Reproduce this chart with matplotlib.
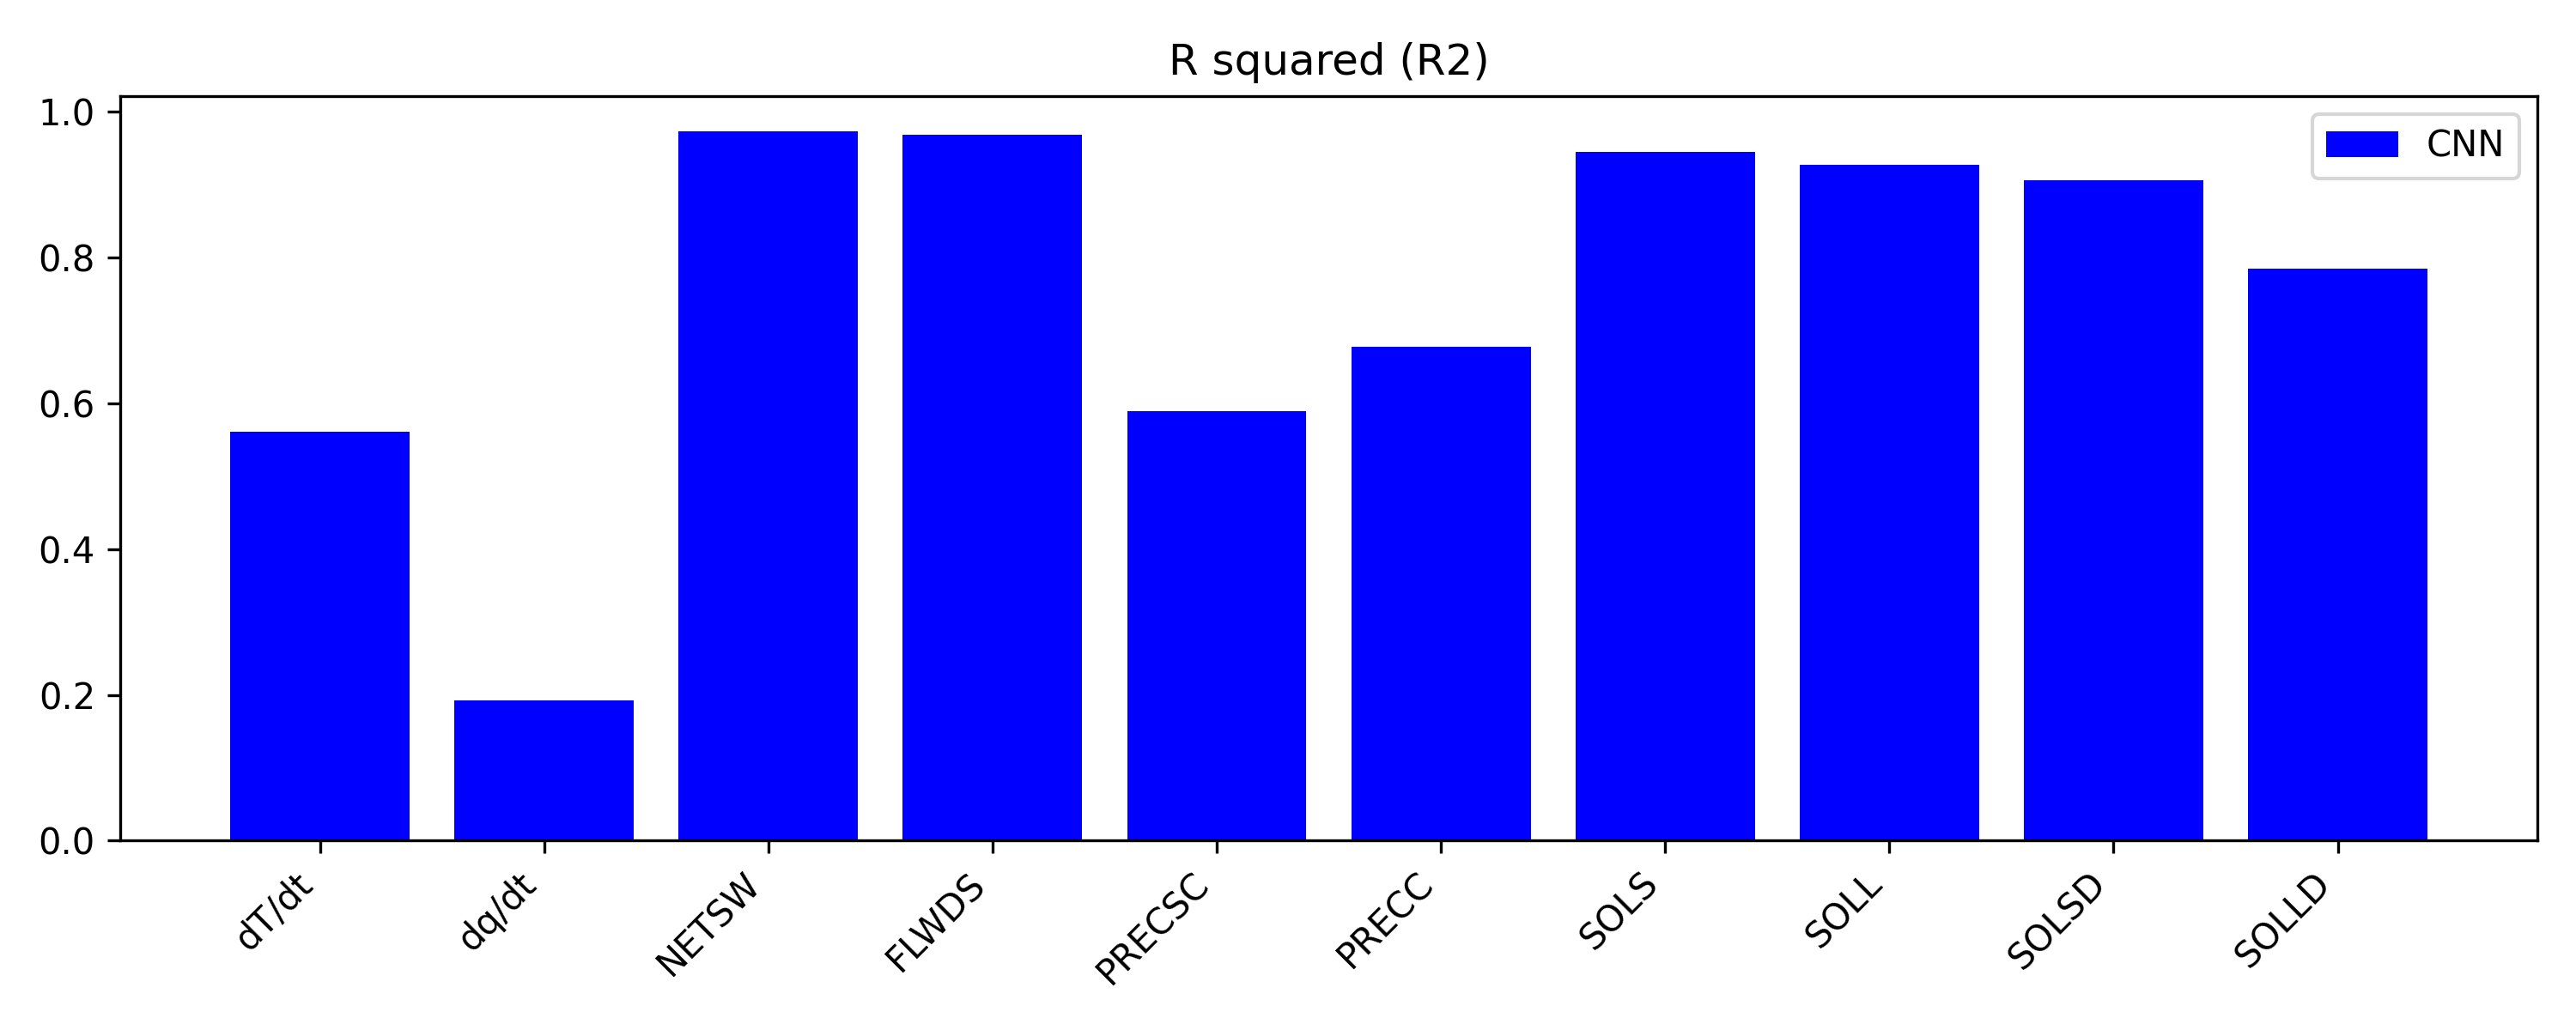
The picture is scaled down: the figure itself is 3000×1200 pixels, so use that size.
import matplotlib
matplotlib.use("Agg")
import matplotlib.pyplot as plt
import numpy as np

# variáveis de saída e R2 do modelo CNN
variables = ["dT/dt", "dq/dt", "NETSW", "FLWDS", "PRECSC", "PRECC", "SOLS", "SOLL", "SOLSD", "SOLLD"]
r2_cnn = [0.561, 0.192, 0.973, 0.969, 0.589, 0.678, 0.945, 0.928, 0.906, 0.785]

fig, ax = plt.subplots(figsize=(10, 4))
x = np.arange(len(variables))
ax.bar(x, r2_cnn, color="blue", label="CNN")
ax.set_xticks(x)
ax.set_xticklabels(variables, rotation=45, ha="right")
ax.set_title("R squared (R2)")
ax.legend(loc="upper right")

plt.tight_layout()
plt.savefig("out.png", dpi=300)
